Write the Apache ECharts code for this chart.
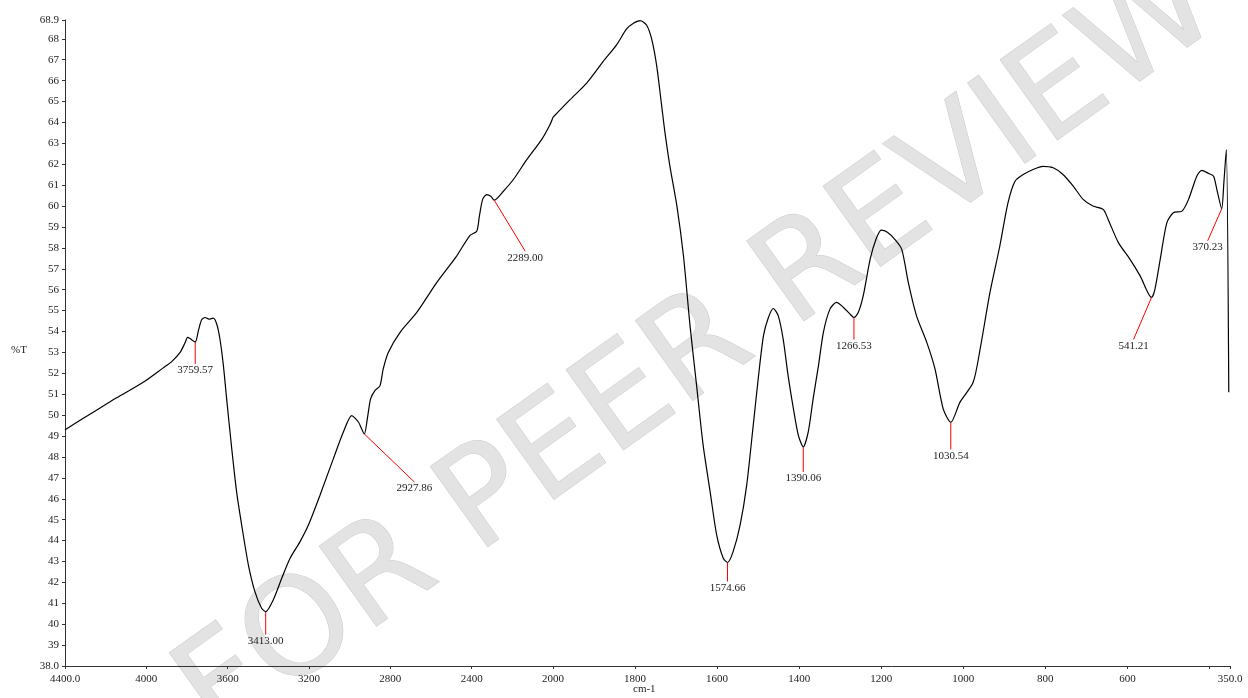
<!DOCTYPE html>
<html>
<head>
<meta charset="utf-8">
<title>FTIR spectrum</title>
<script src="https://cdn.jsdelivr.net/npm/echarts@6/dist/echarts.min.js"></script>
<style>
  html, body { margin: 0; padding: 0; background: #ffffff; }
  #chart { width: 1248px; height: 698px; }
</style>
</head>
<body>
<div id="chart"></div>
<script>
// Spectrum: wavenumber (cm-1, descending) and transmittance (%T)
const wavenumbers = [
  4400, 4359, 4261, 4146, 4015, 3917, 3875, 3834, 3810, 3797, 3785, 3759.57,
  3744, 3728, 3711, 3692, 3671, 3654, 3638, 3621, 3605, 3580, 3556, 3531,
  3498, 3466, 3433, 3413.00, 3376, 3334, 3293, 3244, 3203, 3146, 3080, 3031,
  2990, 2957, 2927.86, 2913, 2897, 2875, 2851, 2835, 2810, 2752, 2670, 2572,
  2474, 2408, 2375, 2362, 2346, 2326, 2306, 2289.00, 2244, 2195, 2129, 2056,
  2015, 2000, 1959, 1918, 1878, 1845, 1821, 1804, 1788, 1772, 1759, 1747,
  1735, 1727, 1715, 1698, 1682, 1666, 1650, 1634, 1617, 1601, 1585, 1574.66,
  1561, 1544, 1528, 1512, 1499, 1487, 1475, 1463, 1451, 1439, 1427, 1414,
  1402, 1390.06, 1378, 1366, 1353, 1341, 1325, 1309, 1292, 1276, 1266.53, 1256,
  1244, 1227, 1213, 1200, 1185, 1167, 1150, 1134, 1114, 1089, 1069, 1049,
  1030.54, 1008, 976, 959, 935, 911, 891, 874, 854, 830, 806, 781,
  757, 732, 708, 684, 659, 647, 622, 594, 569, 541.21, 533, 520,
  504, 488, 467, 451, 431, 419, 402, 390, 382, 370.23, 365, 359, 353
];
const transmittance = [
  49.30, 49.55, 50.14, 50.83, 51.57, 52.26, 52.56, 53.00, 53.45, 53.72, 53.66, 53.50,
  54.04, 54.56, 54.67, 54.59, 54.64, 54.36, 53.64, 52.37, 50.78, 48.40, 46.33, 44.74,
  42.83, 41.56, 40.76, 40.60, 41.16, 42.20, 43.15, 43.95, 44.74, 46.17, 47.92, 49.19,
  49.98, 49.67, 49.10, 49.83, 50.78, 51.18, 51.40, 52.21, 53.00, 53.96, 54.91, 56.34,
  57.61, 58.60, 58.80, 59.52, 60.32, 60.55, 60.47, 60.28, 60.71, 61.27, 62.22, 63.18,
  63.89, 64.25, 65.08, 65.88, 66.91, 67.71, 68.46, 68.74, 68.87, 68.66, 67.95, 66.67,
  64.77, 63.50, 61.90, 60.00, 57.61, 54.27, 51.41, 48.55, 46.33, 44.26, 43.15, 42.95,
  43.47, 44.74, 46.64, 49.51, 51.89, 53.80, 54.67, 55.10, 54.75, 53.64, 51.89, 50.30,
  49.03, 48.48, 49.19, 50.78, 52.37, 53.96, 55.07, 55.39, 55.15, 54.83, 54.67, 54.91,
  55.70, 57.46, 58.40, 58.85, 58.75, 58.41, 57.93, 56.34, 54.75, 53.48, 52.21, 50.30,
  49.65, 50.62, 51.57, 53.16, 55.87, 58.09, 60.16, 61.19, 61.51, 61.75, 61.90, 61.83,
  61.51, 60.95, 60.32, 60.00, 59.84, 59.36, 58.25, 57.46, 56.66, 55.63, 56.02, 57.46,
  59.20, 59.68, 59.76, 60.32, 61.43, 61.71, 61.56, 61.43, 60.79, 59.87, 61.11, 62.70, 51.10
];

// Labelled absorption bands (cm-1)
const peakWavenumbers = [3759.57, 3413.00, 2927.86, 2289.00, 1574.66, 1390.06, 1266.53, 1030.54, 541.21, 370.23];
const peakLabels = ['3759.57', '3413.00', '2927.86', '2289.00', '1574.66', '1390.06', '1266.53', '1030.54', '541.21', '370.23'];

// Axis ticks and labels
const yTickValues = [38, 39, 40, 41, 42, 43, 44, 45, 46, 47, 48, 49, 50, 51, 52, 53, 54, 55, 56, 57, 58, 59, 60, 61, 62, 63, 64, 65, 66, 67, 68, 68.9];
const xTicksHigh = [4400, 4000, 3600, 3200, 2800, 2400, 2000];
const xTicksLow = [1800, 1600, 1400, 1200, 1000, 800, 600, 400, 350];
const xLabelsLow = [1800, 1600, 1400, 1200, 1000, 800, 600, 350];
const xAxisTitle = 'cm-1';
const yAxisTitle = '%T';
const watermarkText = 'FOR PEER REVIEW';

// Leader line offsets (px) from each band to its label
const leaderOffsets = [[0, 22], [0, 23], [50, 48], [31, 51], [0, 19], [0, 25], [0, 22], [0, 27], [-18, 42], [-14, 32]];

const SPLIT = 2000; // scale changes at 2000 cm-1
const FONT = '"Liberation Serif", "Times New Roman", serif';

const points = wavenumbers.map((w, i) => [w, transmittance[i]]);
const highPart = points.filter(p => p[0] >= SPLIT);
const lowPart = points.filter(p => p[0] <= SPLIT);

const peaks = peakWavenumbers.map((w, i) => ({
  wn: w,
  t: transmittance[wavenumbers.indexOf(w)],
  label: peakLabels[i],
  dx: leaderOffsets[i][0],
  dy: leaderOffsets[i][1]
}));

function bandSeries(gridIndex, list) {
  return {
    type: 'custom',
    xAxisIndex: gridIndex,
    yAxisIndex: gridIndex,
    silent: true,
    clip: false,
    z: 4,
    data: list.map(p => [p.wn, p.t]),
    renderItem: function (params, api) {
      const p = list[params.dataIndex];
      const c = api.coord([api.value(0), api.value(1)]);
      const ex = c[0] + p.dx, ey = c[1] + p.dy;
      return {
        type: 'group',
        children: [
          { type: 'line', shape: { x1: c[0], y1: c[1], x2: ex, y2: ey },
            style: { stroke: '#ff0000', lineWidth: 1 } },
          { type: 'text', x: ex, y: ey + 1,
            style: { text: p.label, align: 'center', verticalAlign: 'top',
                     font: '11px ' + FONT, fill: '#222222' } }
        ]
      };
    }
  };
}

function fmtX(v) {
  if (v === 4400) return '4400.0';
  if (v === 350) return '350.0';
  return String(v);
}

const axisLineStyle = { lineStyle: { color: '#333333', width: 1 } };
const labelStyle = { fontFamily: FONT, fontSize: 11, color: '#222222' };

const chart = echarts.init(document.getElementById('chart'), null, { renderer: 'canvas' });

chart.setOption({
  animation: false,
  backgroundColor: '#ffffff',
  grid: [
    { left: 65, top: 20, width: 488, bottom: 32 },
    { left: 553, top: 20, width: 677, bottom: 32 }
  ],
  xAxis: [
    {
      type: 'value', gridIndex: 0, inverse: true, min: SPLIT, max: 4400,
      axisLine: axisLineStyle,
      axisTick: { show: true, length: 3, customValues: xTicksHigh, lineStyle: { color: '#333333' } },
      axisLabel: Object.assign({ margin: 8, customValues: xTicksHigh, formatter: fmtX }, labelStyle),
      splitLine: { show: false }
    },
    {
      type: 'value', gridIndex: 1, inverse: true, min: 350, max: SPLIT,
      axisLine: axisLineStyle,
      axisTick: { show: true, length: 3, customValues: xTicksLow, lineStyle: { color: '#333333' } },
      axisLabel: Object.assign({ margin: 8, customValues: xLabelsLow, formatter: fmtX }, labelStyle),
      splitLine: { show: false }
    }
  ],
  yAxis: [
    {
      type: 'value', gridIndex: 0, min: 38, max: 68.9,
      axisLine: Object.assign({ show: true }, axisLineStyle),
      axisTick: { show: true, length: 3, customValues: yTickValues, lineStyle: { color: '#333333' } },
      axisLabel: Object.assign({
        margin: 6, customValues: yTickValues,
        formatter: v => (v === 38 ? '38.0' : (Math.abs(v - 68.9) < 1e-6 ? '68.9' : String(v))),
        padding: [0, 0, 4, 0]
      }, labelStyle),
      splitLine: { show: false }
    },
    {
      type: 'value', gridIndex: 1, min: 38, max: 68.9, show: false,
      splitLine: { show: false }
    }
  ],
  graphic: [
    {
      type: 'text', z: -10, silent: true,
      x: 700, y: 352, rotation: 0.62,
      style: {
        text: watermarkText, font: '135px "DejaVu Sans"',
        align: 'center', verticalAlign: 'middle',
        fill: '#e3e3e3', stroke: '#c9c9c9', lineWidth: 1
      }
    },
    {
      type: 'text', left: 11, top: 345, silent: true,
      style: { text: yAxisTitle, font: '11px ' + FONT, fill: '#222222' }
    },
    {
      type: 'text', left: 633, top: 684, silent: true,
      style: { text: xAxisTitle, font: '11px ' + FONT, fill: '#222222' }
    }
  ],
  series: [
    {
      type: 'line', xAxisIndex: 0, yAxisIndex: 0, data: highPart,
      showSymbol: false, smooth: 0.25, z: 3,
      lineStyle: { color: '#000000', width: 1.2 }
    },
    {
      type: 'line', xAxisIndex: 1, yAxisIndex: 1, data: lowPart,
      showSymbol: false, smooth: 0.25, z: 3,
      lineStyle: { color: '#000000', width: 1.2 }
    },
    bandSeries(0, peaks.filter(p => p.wn >= SPLIT)),
    bandSeries(1, peaks.filter(p => p.wn < SPLIT))
  ]
});
</script>
</body>
</html>
